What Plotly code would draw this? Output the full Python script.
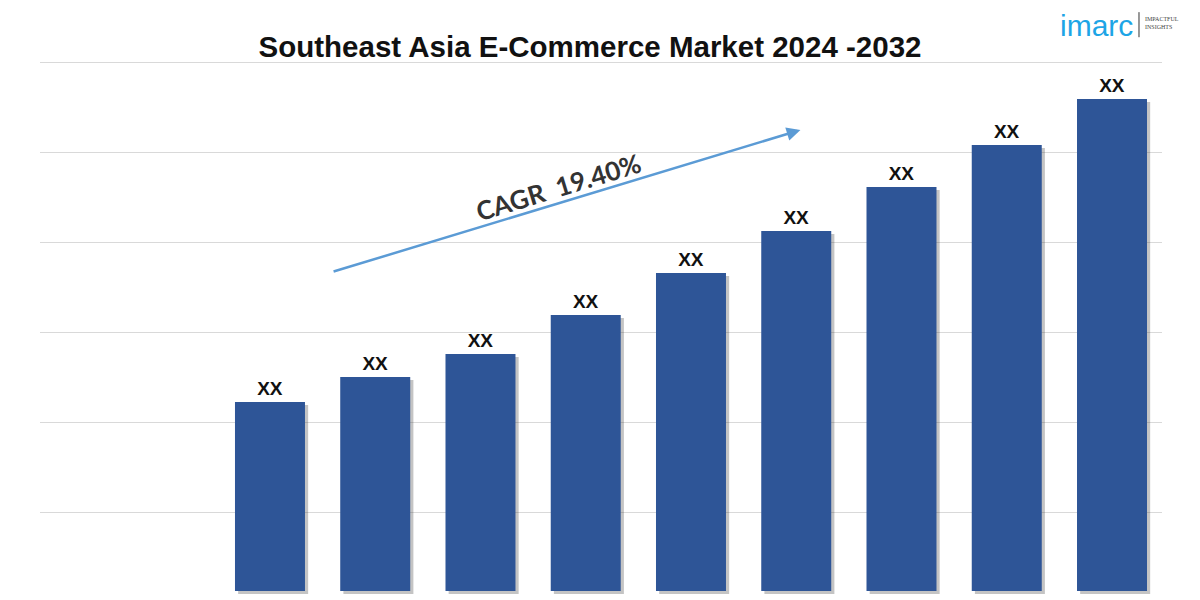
import plotly.graph_objects as go

# datos del grafico (valores relativos, las etiquetas son "XX")
years = ["2024", "2025", "2026", "2027", "2028", "2029", "2030", "2031", "2032"]
values = [189, 214, 237, 276, 318, 360, 404, 446, 492]
labels = ["XX"] * len(years)
cagr_text = "CAGR  19.40%"
title_text = "Southeast Asia E-Commerce Market 2024 -2032"

bar_color = "#2E5597"
bar_w = 0.665

fig = go.Figure()

# sombra suave de las barras
fig.add_trace(go.Bar(x=years, y=values, base=-3, width=bar_w, offset=-bar_w / 2 + 0.03,
                     marker=dict(color="rgba(60,60,60,0.3)", line=dict(width=0)),
                     hoverinfo="skip", showlegend=False))

fig.add_trace(go.Bar(x=years, y=values, width=bar_w, offset=-bar_w / 2,
                     marker=dict(color=bar_color, line=dict(width=0)),
                     text=labels, textposition="outside", cliponaxis=False,
                     textfont=dict(family="Liberation Sans", size=19, color="#111111", weight="bold"),
                     showlegend=False))

# flecha CAGR
fig.add_annotation(x=5.04, y=461, ax=0.59, ay=319, xref="x", yref="y", axref="x", ayref="y",
                   showarrow=True, arrowhead=2, arrowsize=1.1, arrowwidth=2.5, arrowcolor="#5B9BD5",
                   text="")
fig.add_annotation(x=2.74, y=404, xref="x", yref="y", text=cagr_text, showarrow=False,
                   textangle=-17, font=dict(family="Lato", size=26, color="#333333", weight="bold"))

# logo
fig.add_annotation(xref="paper", yref="paper", x=0.976, y=1.026, xanchor="right", yanchor="middle",
                   text="imarc", showarrow=False,
                   font=dict(family="Liberation Sans", size=30, color="#1DA5E6"))
fig.add_annotation(xref="paper", yref="paper", x=0.983, y=1.03, xanchor="left", yanchor="middle",
                   text="IMPACTFUL<br>INSIGHTS", showarrow=False, align="left",
                   font=dict(family="Liberation Sans Narrow", size=6, color="#444444"))
fig.add_shape(type="line", xref="paper", yref="paper", x0=0.9795, x1=0.9795, y0=1.005, y1=1.05,
              line=dict(color="#333333", width=1))

fig.update_layout(
    width=1200, height=600,
    margin=dict(l=32, r=46, t=32, b=11),
    paper_bgcolor="white", plot_bgcolor="white",
    title=dict(text=title_text, x=0.485, xanchor="center", y=0.935, yanchor="middle",
               font=dict(family="Liberation Sans", size=29.5, color="#111111", weight="bold")),
    xaxis=dict(type="category", range=[-2.185, 8.475], showticklabels=False, showgrid=False,
               zeroline=False, showline=False, ticks=""),
    yaxis=dict(range=[-6, 551], tickmode="linear", tick0=79, dtick=90, showticklabels=False,
               showgrid=True, gridcolor="#D9D9D9", gridwidth=1, zeroline=False, showline=False),
)

fig.write_html("out.html")
